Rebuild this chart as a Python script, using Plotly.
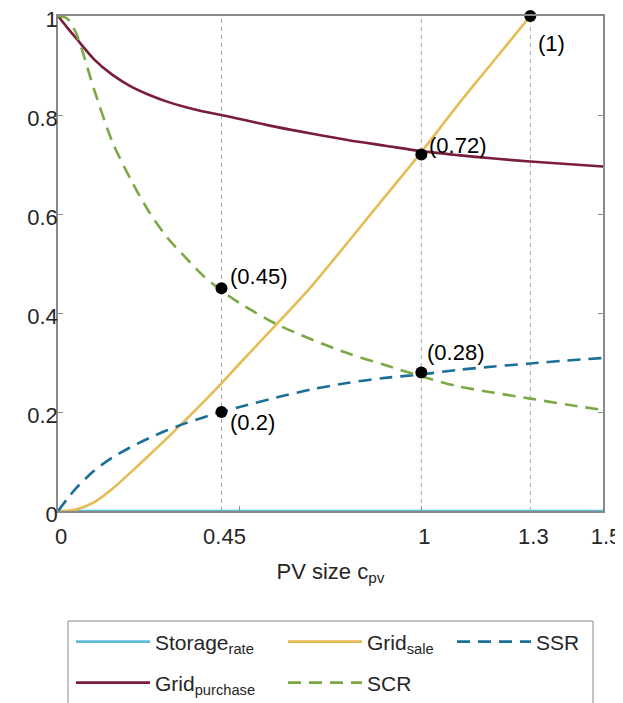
import plotly.graph_objects as go

# ---------------- data ----------------
pv_size = [0, 0.025, 0.05, 0.1, 0.15, 0.2, 0.25, 0.3, 0.35, 0.4, 0.45, 0.5,
           0.6, 0.7, 0.8, 0.9, 1.0, 1.1, 1.2, 1.3, 1.4, 1.5]
storage_rate = [0] * len(pv_size)
grid_purchase = [1, 0.977, 0.955, 0.912, 0.881, 0.858, 0.841, 0.827, 0.816, 0.807, 0.800, 0.792,
                 0.776, 0.762, 0.749, 0.738, 0.727, 0.719, 0.712, 0.706, 0.701, 0.696]
grid_sale = [0, 0.0, 0.003, 0.018, 0.045, 0.078, 0.112, 0.147, 0.183, 0.22, 0.258, 0.298,
             0.376, 0.456, 0.545, 0.635, 0.725, 0.82, 0.91, 1.0, None, None]
ssr = [0, 0.024, 0.046, 0.082, 0.108, 0.129, 0.147, 0.163, 0.177, 0.189, 0.200, 0.210,
       0.229, 0.246, 0.259, 0.269, 0.276, 0.285, 0.292, 0.298, 0.304, 0.309]
scr = [1, 0.995, 0.965, 0.85, 0.745, 0.67, 0.605, 0.553, 0.513, 0.475, 0.445, 0.42,
       0.378, 0.346, 0.318, 0.295, 0.272, 0.252, 0.239, 0.227, 0.215, 0.204]

point_x = [0.45, 0.45, 1, 1, 1.3]
point_y = [0.45, 0.2, 0.28, 0.72, 1]
point_labels = ["(0.45)", "(0.2)", "(0.28)", "(0.72)", "(1)"]
point_label_shift = [(6, 12), (6, -10), (4, 20), (6, 9), (6, -27)]

ref_lines_x = [0.45, 1, 1.3]
x_tick_vals = [0, 0.45, 1, 1.3, 1.5]
x_tick_text = ["0", "0.45", "1", "1.3", "1.5"]
y_tick_vals = [0, 0.2, 0.4, 0.6, 0.8, 1]
y_tick_text = ["0", "0.2", "0.4", "0.6", "0.8", "1"]

# ---------------- styles ----------------
FONT = "Liberation Sans, Arial, Helvetica, sans-serif"
TXT = "#262626"
AX = "#8a8a8a"
C_STORAGE = "#5cbcd8"
C_PURCHASE = "#7a1d3a"
C_SALE = "#e5bd55"
C_SSR = "#1c6f97"
C_SCR = "#7ba845"

# the page body has an 8px margin, so the figure is a bit smaller than the window
FW, FH = 615, 695
L, R, T, B = 50, 595, 8, 503
W, H = R - L, B - T

fig = go.Figure()

series = [
    ("Storage<sub>rate</sub>", storage_rate, C_STORAGE, "solid", "legend"),
    ("Grid<sub>sale</sub>", grid_sale, C_SALE, "solid", "legend2"),
    ("SSR", ssr, C_SSR, "13px,8px", "legend3"),
    ("Grid<sub>purchase</sub>", grid_purchase, C_PURCHASE, "solid", "legend4"),
    ("SCR", scr, C_SCR, "13px,8px", "legend5"),
]
for name, ys, col, dash, leg in series:
    fig.add_trace(go.Scatter(
        x=pv_size, y=ys, mode="lines", name=name,
        line=dict(color=col, width=2.6, dash=dash, shape="spline", smoothing=0.8),
        legend=leg, cliponaxis=(name != "Storage<sub>rate</sub>"),
    ))

fig.add_trace(go.Scatter(
    x=point_x, y=point_y, mode="markers", showlegend=False,
    marker=dict(color="black", size=12), cliponaxis=False,
))

for xv in ref_lines_x:
    fig.add_shape(type="line", xref="x", yref="y", x0=xv, x1=xv, y0=0, y1=1,
                  line=dict(color="#a8a8a8", width=1, dash="4px,4px"), layer="below")

for xv, yv, lab, (dx, dy) in zip(point_x, point_y, point_labels, point_label_shift):
    fig.add_annotation(x=xv, y=yv, text=lab, showarrow=False, xanchor="left",
                       yanchor="middle", xshift=dx, yshift=dy,
                       font=dict(family=FONT, size=22, color="black"))

def px(xp):
    return (xp - L) / W
def py(yp):
    return (B - yp) / H

# legend frame
fig.add_shape(type="rect", xref="paper", yref="paper",
              x0=px(60), x1=px(585), y0=py(613), y1=py(712),
              line=dict(color=AX, width=1), fillcolor="rgba(0,0,0,0)")

leg_common = dict(bgcolor="rgba(0,0,0,0)", borderwidth=0, itemwidth=74,
                  font=dict(family=FONT, size=21, color=TXT),
                  xref="container", yref="container",
                  xanchor="left", yanchor="middle", orientation="v")
legend_pos = {
    "legend": (63, 634),
    "legend2": (275, 634),
    "legend3": (444, 634),
    "legend4": (63, 675),
    "legend5": (275, 675),
}
layout_legends = {k: dict(x=v[0] / FW, y=1 - v[1] / FH, **leg_common) for k, v in legend_pos.items()}

fig.update_layout(
    width=FW, height=FH,
    margin=dict(l=L, r=FW - R, t=T, b=FH - B, autoexpand=False),
    paper_bgcolor="white", plot_bgcolor="white",
    font=dict(family=FONT, size=22, color=TXT),
    showlegend=True,
    **layout_legends,
    xaxis=dict(range=[0, 1.5], tickmode="array", tickvals=x_tick_vals, ticktext=x_tick_text,
               ticks="", showline=True, linecolor=AX, linewidth=1.5, mirror=True,
               showgrid=False, zeroline=False, tickfont=dict(size=22, color=TXT),
               automargin=False, ticklabelstandoff=5, ticklabelshift=3,
               ticklabeloverflow="allow",
               minor=dict(tickmode="array", tickvals=[0.5, 1, 1.5], ticks="inside",
                          ticklen=5, tickcolor=AX, showgrid=False),
               title=dict(text="PV size c<sub>pv</sub>", font=dict(size=22, color=TXT), standoff=15)),
    yaxis=dict(range=[0, 1], tickmode="array", tickvals=y_tick_vals, ticktext=y_tick_text,
               ticks="inside", ticklen=5, tickcolor=AX, showline=True, linecolor=AX,
               linewidth=1.5, mirror="ticks", showgrid=False, zeroline=False,
               automargin=False, ticklabelstandoff=-6, ticklabelshift=3,
               ticklabeloverflow="allow", tickfont=dict(size=22, color=TXT)),
)

fig.write_html("out.html")
